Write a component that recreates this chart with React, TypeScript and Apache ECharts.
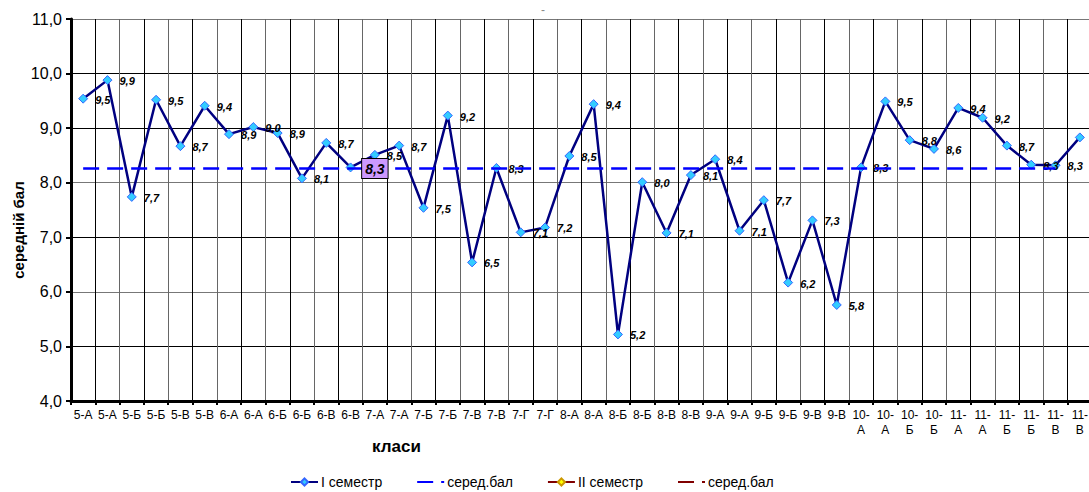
import React, { useEffect, useRef } from "react";
import * as echarts from "echarts";

const categories = [
  "5-А", "5-А", "5-Б", "5-Б", "5-В", "5-В", "6-А", "6-А", "6-Б", "6-Б", "6-В", "6-В",
  "7-А", "7-А", "7-Б", "7-Б", "7-В", "7-В", "7-Г", "7-Г", "8-А", "8-А", "8-Б", "8-Б",
  "8-В", "8-В", "9-А", "9-А", "9-Б", "9-Б", "9-В", "9-В", "10-А", "10-А", "10-Б", "10-Б",
  "11-А", "11-А", "11-Б", "11-Б", "11-В", "11-В",
];

const semester1 = [
  9.54, 9.88, 7.74, 9.52, 8.67, 9.41, 8.89, 9.02, 8.91, 8.08,
  8.73, 8.28, 8.51, 8.68, 7.54, 9.23, 6.54, 8.27, 7.09, 7.18,
  8.49, 9.44, 5.22, 8.01, 7.08, 8.14, 8.43, 7.12, 7.68, 6.17,
  7.31, 5.76, 8.28, 9.49, 8.78, 8.62, 9.37, 9.19, 8.68, 8.33,
  8.32, 8.83,
];

const mean1 = [
  8.26, 8.26, 8.26, 8.26, 8.26, 8.26, 8.26, 8.26, 8.26, 8.26,
  8.26, 8.26, 8.26, 8.26, 8.26, 8.26, 8.26, 8.26, 8.26, 8.26,
  8.26, 8.26, 8.26, 8.26, 8.26, 8.26, 8.26, 8.26, 8.26, 8.26,
  8.26, 8.26, 8.26, 8.26, 8.26, 8.26, 8.26, 8.26, 8.26, 8.26,
  8.26,
];
const meanLabelIndex = 12;

const semester2: number[] = [];
const mean2: number[] = [];

const seriesNames = ["I семестр", "серед.бал", "II семестр", "серед.бал "];
const yMin = 4;
const yMax = 11;
const yStep = 1;

const FONT = "Arial, 'Liberation Sans', sans-serif";
const fmt = (v: number) => v.toFixed(1).replace(".", ",");

export default function App() {
  const ref = useRef<HTMLDivElement>(null);

  useEffect(() => {
    if (!ref.current) return;
    const chart = echarts.init(ref.current, undefined, { renderer: "svg" });
    const meanData = mean1.map((v, i) =>
      i === meanLabelIndex
        ? {
            value: v,
            label: {
              show: true,
              position: "inside",
              formatter: (p: any) => fmt(p.value),
              fontFamily: FONT,
              fontSize: 14,
              fontWeight: "bold",
              fontStyle: "italic",
              color: "#000",
              backgroundColor: "#CC99FF",
              borderColor: "#000",
              borderWidth: 1,
              padding: [3, 3, 2, 3],
            },
          }
        : v
    );
    chart.setOption({
      animation: false,
      backgroundColor: "#fff",
      grid: { left: 71, right: 18, top: 19, bottom: 91, containLabel: false },
      legend: {
        left: 285,
        top: 470,
        itemWidth: 27,
        itemHeight: 9,
        itemGap: 34,
        textStyle: { fontFamily: FONT, fontSize: 14, color: "#000", padding: [0, 0, 0, -2] },
        data: seriesNames,
      },
      graphic: [
        {
          type: "text",
          left: 399 - 27,
          top: 438,
          style: { text: "класи", font: `bold 17px ${FONT}`, fill: "#000" },
        },
        {
          type: "text",
          x: 18,
          y: 230,
          rotation: Math.PI / 2,
          style: {
            text: "середній бал",
            font: `bold 15px ${FONT}`,
            fill: "#000",
            align: "center",
            verticalAlign: "middle",
          },
        },
        {
          type: "text",
          x: 543,
          y: 10,
          style: { text: "-", font: `12px ${FONT}`, fill: "#888", align: "center", verticalAlign: "middle" },
        },
      ],
      xAxis: {
        type: "category",
        data: categories,
        boundaryGap: true,
        axisLine: { show: true, lineStyle: { color: "#000", width: 3 } },
        axisTick: { show: true, length: 4, lineStyle: { color: "#000", width: 2 } },
        axisLabel: {
          interval: 0,
          margin: 6,
          fontFamily: FONT,
          fontSize: 12,
          color: "#000",
          lineHeight: 15,
          formatter: (v: string) => (v.length > 3 ? v.replace("-", "-\n") : v),
        },
        splitLine: { show: true, lineStyle: { color: ["#666", "#000"], width: 1 } },
      },
      yAxis: {
        type: "value",
        min: yMin,
        max: yMax,
        interval: yStep,
        axisLine: { show: true, lineStyle: { color: "#000", width: 3 } },
        axisTick: { show: true, length: 5, lineStyle: { color: "#000", width: 2 } },
        axisLabel: {
          margin: 9,
          fontFamily: FONT,
          fontSize: 16,
          color: "#000",
          formatter: (v: number) => fmt(v),
        },
        splitLine: {
          show: true,
          lineStyle: {
            color: ["#000", "#000", "#777", "#000", "#777", "#000", "#000", "#777"],
            width: 1,
          },
        },
      },
      series: [
        {
          name: seriesNames[0],
          type: "line",
          data: semester1,
          z: 5,
          symbol: "diamond",
          symbolSize: 9,
          lineStyle: { color: "#000080", width: 2.5 },
          itemStyle: { color: "#33CCFF", borderColor: "#3366FF", borderWidth: 1 },
          label: {
            show: true,
            position: "right",
            distance: 7,
            offset: [0, 1],
            formatter: (p: any) => fmt(p.value),
            fontFamily: FONT,
            fontSize: 11,
            fontWeight: "bold",
            fontStyle: "italic",
            color: "#000",
          },
        },
        {
          name: seriesNames[1],
          type: "line",
          data: meanData,
          z: 6,
          symbol: "circle",
          symbolSize: 1,
          showSymbol: true,
          lineStyle: { color: "#0000FF", width: 2.5, type: [16, 8] },
          itemStyle: { color: "transparent", borderWidth: 0 },
        },
        {
          name: seriesNames[2],
          type: "line",
          data: semester2,
          symbol: "diamond",
          symbolSize: 9,
          lineStyle: { color: "#800000", width: 2.5 },
          itemStyle: { color: "#FFFF00", borderColor: "#CC9900", borderWidth: 1 },
        },
        {
          name: seriesNames[3],
          type: "line",
          data: mean2,
          symbol: "circle",
          symbolSize: 1,
          lineStyle: { color: "#800000", width: 2.5, type: [16, 8] },
          itemStyle: { color: "transparent", borderWidth: 0 },
        },
      ],
    });
    return () => chart.dispose();
  }, []);

  return (
    <div style={{ position: "fixed", left: 0, top: 0, width: 1089, height: 492, overflow: "hidden", background: "#fff" }}>
      <div ref={ref} style={{ width: 1110, height: 492 }} />
    </div>
  );
}
